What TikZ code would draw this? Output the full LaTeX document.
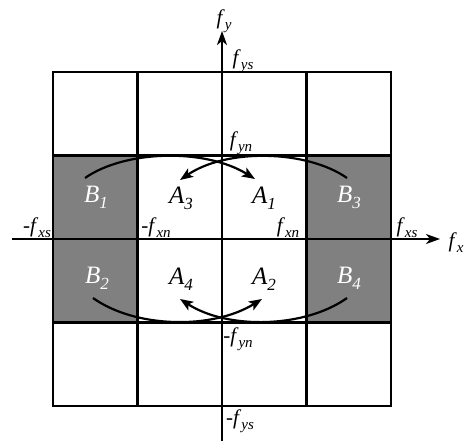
\documentclass[tikz,border=0pt]{standalone}
\usepackage{fontspec}
\setmainfont{Liberation Serif}
\usetikzlibrary{arrows.meta}
\newcommand{\flab}[1]{\textit{f}\raisebox{-5pt}{\fontsize{15}{15}\selectfont\itshape #1}}
\newcommand{\clab}[2]{\textit{#1}\raisebox{-6pt}{\fontsize{17}{17}\selectfont\itshape #2}}
\tikzset{
    gridline/.style={draw, line width=2.4pt},
    shaded/.style={fill=black!50},
    axis/.style={line width=2pt, -{Stealth[length=14pt, width=10pt, inset=4pt]}},
    flow/.style={line width=2.2pt, -{Stealth[length=13pt, width=10pt, inset=3pt]}},
    ftext/.style={font=\fontsize{21}{21}\selectfont, inner sep=0pt},
    ctext/.style={font=\fontsize{25}{25}\selectfont, inner sep=0pt}
}
\begin{document}
\begin{tikzpicture}[x=1pt, y=-1pt]
        \useasboundingbox (0,0) rectangle (470,441);

        % --- Shaded cells ---
        \fill [shaded] (53,155.5) rectangle (137.5,322.5);
        \fill [shaded] (306.5,155.5) rectangle (391,322.5);

        % --- Grid ---
        \draw [gridline] (53,72) rectangle (391,406);
        \foreach \x in {137.5, 306.5}
            \draw [gridline] (\x,72) -- (\x,406);
        \foreach \y in {155.5, 322.5}
            \draw [gridline] (53,\y) -- (391,\y);

        % --- Axes ---
        \coordinate (xleft)  at (12,239);
        \coordinate (xright) at (440,239);
        \coordinate (ybot)   at (222,441);
        \coordinate (ytop)   at (222,31);
        \draw [axis] (xleft) -- (xright);
        \draw [axis] (ybot) -- (ytop);

        % --- Axis labels ---
        \node [ftext] (fx)   at (456,243) {\flab{x}};
        \node [ftext] (fy)   at (224,21)  {\flab{y}};
        \node [ftext] (fys)  at (243,61)  {\flab{ys}};
        \node [ftext] (fyn)  at (241,143) {\flab{yn}};
        \node [ftext] (mfyn) at (238,339) {-\flab{yn}};
        \node [ftext] (mfys) at (240,421) {-\flab{ys}};
        \node [ftext] (mfxs) at (37,228)  {-\flab{xs}};
        \node [ftext] (mfxn) at (156,228) {-\flab{xn}};
        \node [ftext] (fxn)  at (288,228) {\flab{xn}};
        \node [ftext] (fxs)  at (407,228) {\flab{xs}};

        % --- Cell labels ---
        \node [ctext, white] (b1) at (96,197)  {\clab{B}{1}};
        \node [ctext, white] (b3) at (349,197) {\clab{B}{3}};
        \node [ctext, white] (b2) at (97,278)  {\clab{B}{2}};
        \node [ctext, white] (b4) at (349,278) {\clab{B}{4}};
        \node [ctext] (a3) at (181,198) {\clab{A}{3}};
        \node [ctext] (a1) at (264,198) {\clab{A}{1}};
        \node [ctext] (a4) at (181,279) {\clab{A}{4}};
        \node [ctext] (a2) at (264,279) {\clab{A}{2}};

        % --- Curved arrows ---
        \coordinate (b1out) at (85,178);
        \coordinate (b3out) at (347,178);
        \coordinate (b2out) at (93,298);
        \coordinate (b4out) at (347,298);
        \coordinate (a1in)  at (255,179);
        \coordinate (a3in)  at (180,180);
        \coordinate (a2in)  at (262,299);
        \coordinate (a4in)  at (180,299);

        \draw [flow] (b1out) .. controls (125,150) and (205,148) .. (a1in);
        \draw [flow] (b3out) .. controls (307,150) and (227,148) .. (a3in);
        \draw [flow] (b2out) .. controls (135,328) and (212,330) .. (a2in);
        \draw [flow] (b4out) .. controls (305,328) and (228,330) .. (a4in);

    \end{tikzpicture}
\end{document}
